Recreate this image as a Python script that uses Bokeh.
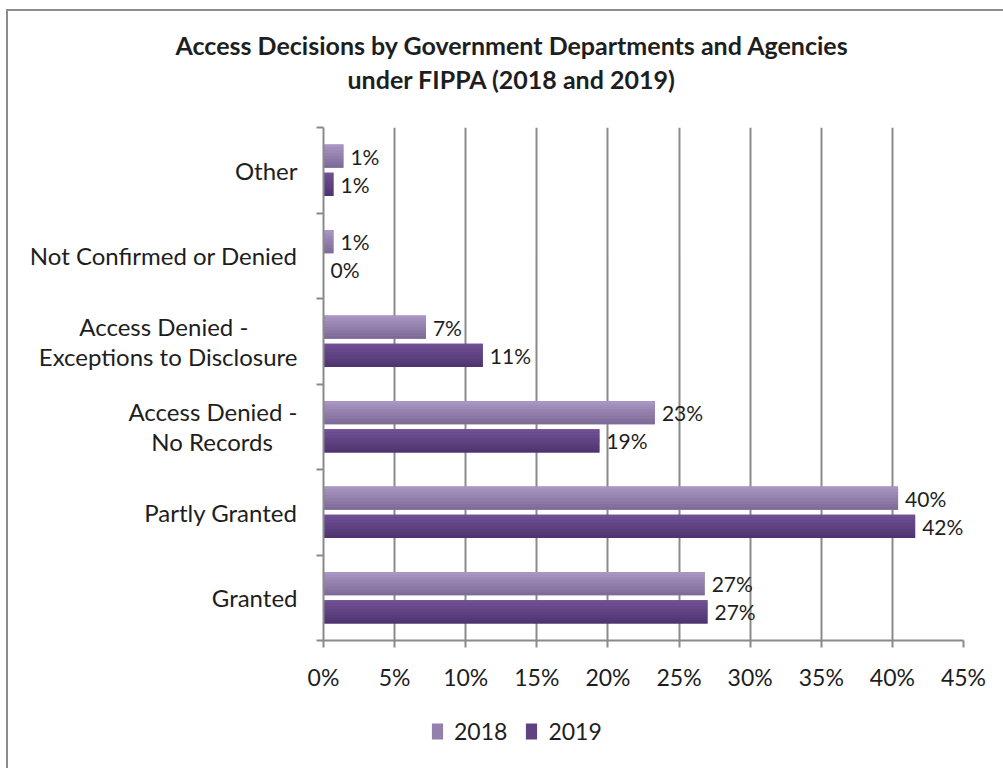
from bokeh.plotting import figure
from bokeh.layouts import column
from bokeh.models import (ColumnDataSource, FixedTicker, PrintfTickFormatter, Title,
                          Legend, LegendItem, LabelSet)
from bokeh.transform import dodge
from bokeh.core.properties import value
from bokeh.embed import file_html
from bokeh.resources import INLINE

# ---------------- data ----------------
categories = ["Granted", "Partly Granted", "Access Denied -\nNo Records",
              "Access Denied -\nExceptions to Disclosure",
              "Not Confirmed or Denied", "Other"]
pct_2018 = [26.8, 40.4, 23.3, 7.2, 0.7, 1.4]
pct_2019 = [27.0, 41.6, 19.4, 11.2, 0.0, 0.7]
series_names = ["2018", "2019"]
x_ticks = [0, 5, 10, 15, 20, 25, 30, 35, 40, 45]
title_lines = ["Access Decisions by Government Departments and Agencies",
               "under FIPPA (2018 and 2019)"]

# ---------------- styles ----------------
FONT = "Lato"
TXT = "#1e1e1e"
GRID = "#8a8a8a"
grad = {
    "2018": ("#ab98c4", "#7c6896"),
    "2019": ("#725298", "#4d336d"),
}
BAR_H = 0.27
OFFS = {"2018": 0.165, "2019": -0.165}
N_STRIPS = 8
NB = "\u00a0"
# visual centring of two-line axis labels (pad count per line)
line_pad = {2: (0, 4), 3: (8, 0)}


def display_label(i, text):
    lines = text.split("\n")
    pads = line_pad.get(i, (0,) * len(lines))
    return "\n".join(l + NB * n for l, n in zip(lines, pads))


def mix(c1, c2, t):
    a = [int(c1[i:i + 2], 16) for i in (1, 3, 5)]
    b = [int(c2[i:i + 2], 16) for i in (1, 3, 5)]
    return "#%02x%02x%02x" % tuple(round(a[j] + (b[j] - a[j]) * t) for j in range(3))


ypos = [i + 0.5 for i in range(len(categories))]
src = ColumnDataSource(dict(
    y=ypos,
    v2018=pct_2018,
    v2019=pct_2019,
    l2018=[f"{round(v)}%" for v in pct_2018],
    l2019=[f"{round(v)}%" for v in pct_2019],
))

p = figure(width=995, height=689, frame_width=640, frame_height=513,
           x_range=(0, 45), y_range=(0, len(categories)),
           output_backend="svg", toolbar_location=None, tools="",
           min_border_left=315, min_border_right=40,
           min_border_top=116, min_border_bottom=60,
           background_fill_color="white", border_fill_color="white")
p.outline_line_color = None

for s in series_names:
    top_c, bot_c = grad[s]
    off = OFFS[s]
    p.hbar(y=dodge("y", off), right="v" + s, left=0, height=BAR_H,
           source=src, fill_color=mix(top_c, bot_c, 0.5), line_color=None)
    h = BAR_H / N_STRIPS
    for k in range(N_STRIPS):
        c = off + BAR_H / 2 - h * (k + 0.5)
        p.hbar(y=dodge("y", c), right="v" + s, left=0, height=h * 1.02,
               source=src, fill_color=mix(top_c, bot_c, (k + 0.5) / N_STRIPS),
               line_color=None)
    p.add_layout(LabelSet(x="v" + s, y=dodge("y", off), text="l" + s, source=src,
                          x_offset=7, text_baseline="middle", text_align="left",
                          text_font=value(FONT), text_font_size=value("21px"),
                          text_color=value(TXT)))

# x axis
p.xaxis.ticker = FixedTicker(ticks=x_ticks)
p.xaxis.formatter = PrintfTickFormatter(format="%d%%")
p.xaxis.axis_line_color = GRID
p.xaxis.axis_line_width = 2
p.xaxis.major_tick_line_color = GRID
p.xaxis.major_tick_line_width = 2
p.xaxis.major_tick_out = 7
p.xaxis.major_tick_in = 0
p.xaxis.minor_tick_line_color = None
p.xaxis.major_label_text_font = FONT
p.xaxis.major_label_text_font_size = "23px"
p.xaxis.major_label_text_color = TXT
p.xaxis.major_label_standoff = 15

# y axis
p.yaxis.ticker = FixedTicker(ticks=ypos, minor_ticks=list(range(len(categories) + 1)))
p.yaxis.major_label_overrides = {y: display_label(i, c)
                                 for i, (y, c) in enumerate(zip(ypos, categories))}
p.yaxis.axis_line_color = GRID
p.yaxis.axis_line_width = 2
p.yaxis.major_tick_line_color = None
p.yaxis.minor_tick_line_color = GRID
p.yaxis.minor_tick_line_width = 2
p.yaxis.minor_tick_out = 7
p.yaxis.minor_tick_in = 0
p.yaxis.major_label_text_font = FONT
p.yaxis.major_label_text_font_size = "24px"
p.yaxis.major_label_text_line_height = 1.05
p.yaxis.major_label_text_color = TXT
p.yaxis.major_label_standoff = 19

p.xgrid.ticker = FixedTicker(ticks=x_ticks)
p.xgrid.grid_line_color = GRID
p.xgrid.grid_line_width = 2
p.ygrid.grid_line_color = None

# titles (first added sits closest to the frame)
p.title = None
p.add_layout(Title(text=" ", text_font_size="10px", standoff=21), "above")
p.add_layout(Title(text=title_lines[1], align="left", offset=24,
                   text_font=FONT, text_font_style="bold", text_font_size="25px",
                   text_color=TXT, standoff=0), "above")
p.add_layout(Title(text=title_lines[0], align="left", offset=-148,
                   text_font=FONT, text_font_style="bold", text_font_size="25px",
                   text_color=TXT, standoff=4), "above")

# ---------------- legend strip below the chart ----------------
q = figure(width=995, height=68, x_range=(0, 45), y_range=(0, len(categories)),
           output_backend="svg", toolbar_location=None, tools="",
           x_axis_type=None, y_axis_type=None,
           min_border_left=0, min_border_right=0, min_border_top=0, min_border_bottom=0,
           background_fill_color="white", border_fill_color="white")
q.outline_line_color = None
q.xgrid.grid_line_color = None
q.ygrid.grid_line_color = None
swatch = {}
for s in series_names:
    top_c, bot_c = grad[s]
    swatch[s] = q.hbar(y="y", right="v" + s, left=0, height=BAR_H, source=src,
                       fill_color=mix(top_c, bot_c, 0.5), line_color=None, visible=False)

legend = Legend(items=[LegendItem(label=s, renderers=[swatch[s]]) for s in series_names],
                orientation="horizontal", location=(107, 23),
                glyph_width=14, glyph_height=20, label_standoff=10, spacing=17,
                label_text_font=FONT, label_text_font_size="23px",
                label_text_color=TXT, border_line_color=None,
                background_fill_alpha=0, inactive_fill_alpha=0,
                padding=0, margin=0)
q.add_layout(legend, "center")

layout = column(p, q, spacing=0, margin=(9, 0, 0, 6),
                styles={"border-left": "2px solid #8c8c8c",
                        "border-top": "2px solid #8c8c8c",
                        "background": "white"})

open("out.html", "w").write(file_html(layout, INLINE))
